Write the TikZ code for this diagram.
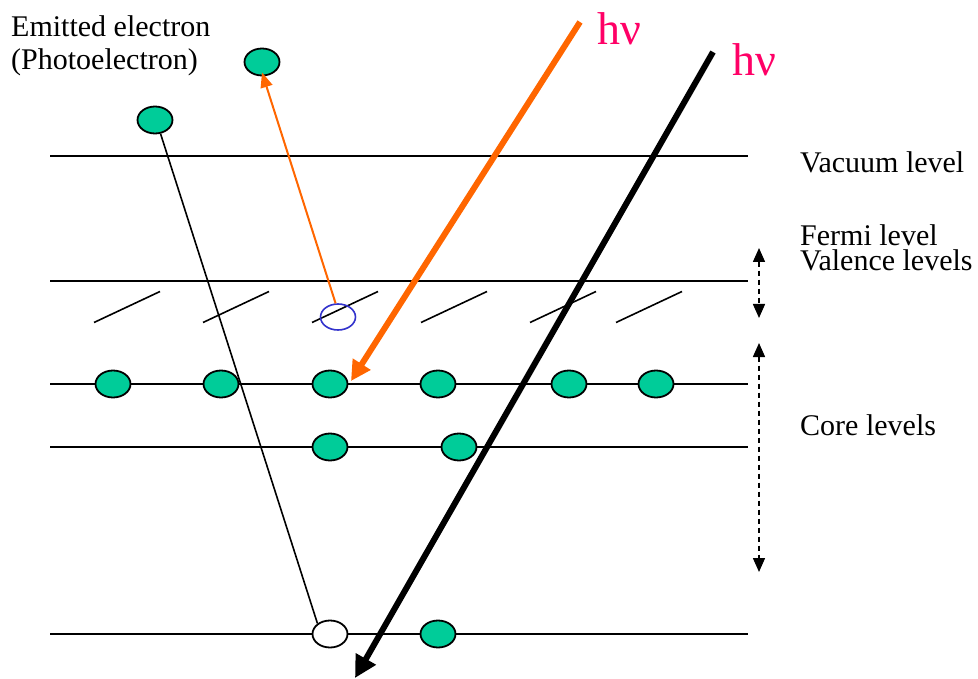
\documentclass[tikz,border=0pt]{standalone}
\usepackage{fontspec}
\setmainfont{Liberation Serif}
\usetikzlibrary{shapes.geometric,arrows.meta}
\definecolor{elgreen}{RGB}{0,204,153}
\definecolor{phorange}{RGB}{255,102,0}
\definecolor{holeblue}{RGB}{51,51,204}
\definecolor{hvpink}{RGB}{255,0,102}
\tikzset{
  levelline/.style={line width=1.6pt},
  vdashline/.style={line width=1.6pt},
  elec/.style={ellipse, draw=black, line width=1.8pt, fill=elgreen, minimum width=35pt, minimum height=27pt, inner sep=0pt},
  hollowel/.style={ellipse, draw=black, line width=1.8pt, fill=white, minimum width=35pt, minimum height=27pt, inner sep=0pt},
  bluehole/.style={ellipse, draw=holeblue, line width=1.6pt, minimum width=35pt, minimum height=26pt, inner sep=0pt},
  lbl/.style={anchor=base west, inner sep=0pt, font=\rmfamily\fontsize{30}{33}\selectfont},
  hvlbl/.style={anchor=base west, inner sep=0pt, text=hvpink, font=\rmfamily\fontsize{46}{50}\selectfont},
  spanarrow/.style={dash pattern=on 5pt off 4pt, line width=1.5pt, {Triangle[length=14pt,width=12pt]}-{Triangle[length=14pt,width=12pt]}},
  thinarrow/.style={draw=phorange, line width=2pt, -{Triangle[length=15pt,width=12pt]}},
  thickorange/.style={draw=phorange, line width=6pt, -{Triangle[length=20pt,width=20pt]}},
  thickblack/.style={draw=black, line width=6pt, -{Triangle[length=22pt,width=22pt]}},
  wireline/.style={line width=1.6pt}
}
\begin{document}
\begin{tikzpicture}[x=1pt,y=-1pt]
\useasboundingbox (0,0) rectangle (978,679);
% levels
\coordinate (vacL) at (50,156); \coordinate (vacR) at (748,156);
\coordinate (ferL) at (50,281); \coordinate (ferR) at (748,281);
\coordinate (co1L) at (50,384); \coordinate (co1R) at (748,384);
\coordinate (co2L) at (50,447); \coordinate (co2R) at (748,447);
\coordinate (co3L) at (50,634); \coordinate (co3R) at (748,634);
\draw[levelline] (vacL) -- (vacR);
\draw[levelline] (ferL) -- (ferR);
\draw[levelline] (co1L) -- (co1R);
\draw[levelline] (co2L) -- (co2R);
\draw[levelline] (co3L) -- (co3R);
% valence dashes
\foreach \i/\x in {1/94,2/203,3/312,4/421,5/530,6/616}{
  \coordinate (va\i) at (\x,322.5);
  \coordinate (vb\i) at (\x+66,291.5);
  \draw[vdashline] (va\i) -- (vb\i);
}
% electrons
\node[elec] (top1) at (155,120) {};
\node[elec] (top2) at (262,62) {};
\node[bluehole] (hole) at (338,317) {};
\node[elec] (c1a) at (113,384) {};
\node[elec] (c1b) at (221,384) {};
\node[elec] (c1c) at (330,384) {};
\node[elec] (c1d) at (438,384) {};
\node[elec] (c1e) at (569,384) {};
\node[elec] (c1f) at (656,384) {};
\node[elec] (c2a) at (330,447) {};
\node[elec] (c2b) at (459,447) {};
\node[hollowel] (c3a) at (330,634) {};
\node[elec] (c3b) at (438,634) {};
% connectors
\draw[wireline] (top1.-68) -- (c3a.140);
\draw[thinarrow] (hole.100) -- ([yshift=4pt]top2.south);
% ranges
\coordinate (r1t) at (759,248); \coordinate (r1b) at (759,318);
\coordinate (r2t) at (759,343); \coordinate (r2b) at (759,572);
\draw[spanarrow] (r1t) -- (r1b);
\draw[spanarrow] (r2t) -- (r2b);
% photons
\coordinate (os) at (580,22); \coordinate (oe) at (351,381);
\coordinate (bs) at (713,52); \coordinate (be) at (355,678);
\draw[thickorange] (os) -- (oe);
\draw[thickblack] (bs) -- (be);
% labels
\node[lbl] (t1) at (11,37) {Emitted electron};
\node[lbl] (t2) at (11,70) {(Photoelectron)};
\node[lbl] (t3) at (800,173) {Vacuum level};
\node[lbl, align=left, font=\rmfamily\fontsize{30}{25}\selectfont] (t4) at (800,271) {Fermi level\\Valence levels};
\node[lbl] (t6) at (800,435) {Core levels};
\node[hvlbl] (h1) at (597,45) {hν};
\node[hvlbl] (h2) at (732,76) {hν};
\end{tikzpicture}
\end{document}
